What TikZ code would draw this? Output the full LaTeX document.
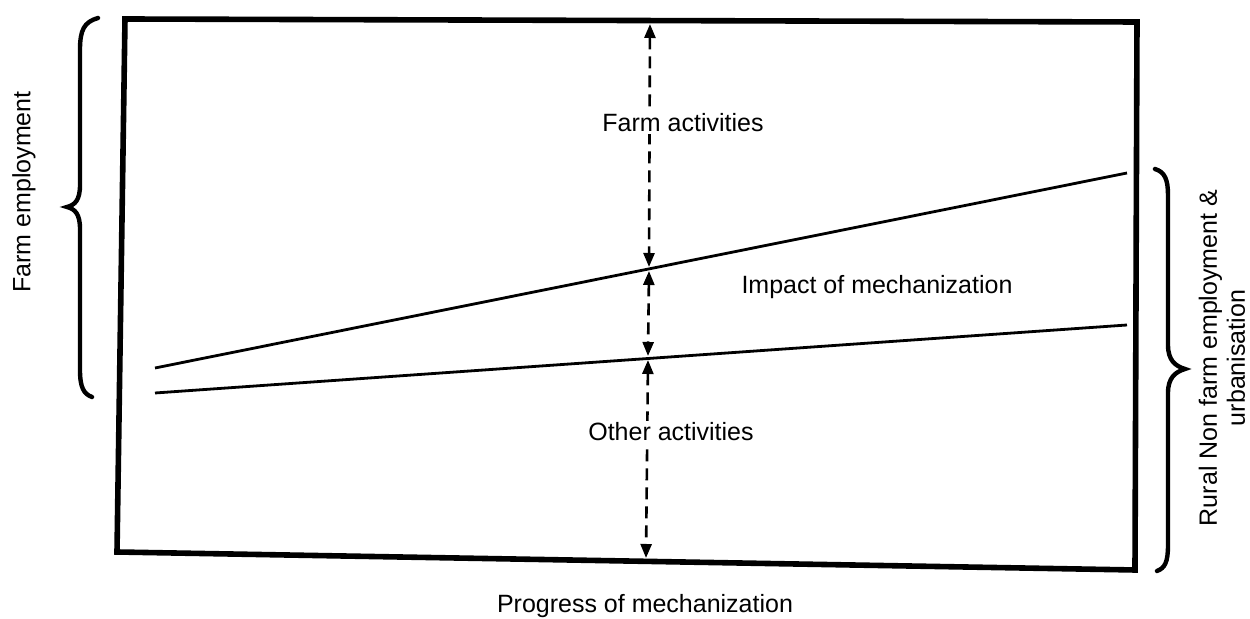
\documentclass[tikz,border=0pt]{standalone}
\usepackage{fontspec}
\setmainfont{Liberation Sans}
\usetikzlibrary{arrows.meta}
\begin{document}
\begin{tikzpicture}[x=0.5pt,y=-0.5pt,
  frame/.style={line width=2.8pt, line join=miter},
  trend/.style={line width=1.4pt},
  gap/.style={line width=1.3pt, dash pattern=on 6pt off 3.5pt,
    {Triangle[length=7pt,width=5.5pt]}-{Triangle[length=7pt,width=5.5pt]}},
  brace/.style={line width=2.2pt, line cap=round},
  lbl/.style={font=\fontsize{12.5}{14}\selectfont, inner sep=0pt}]
\useasboundingbox (0,0) rectangle (1250,619);
% frame corners
\coordinate (tl) at (125,19);
\coordinate (tr) at (1137,22);
\coordinate (br) at (1135,570);
\coordinate (bl) at (117,552);
\draw[frame] (tl) -- (tr) -- (br) -- (bl) -- cycle;
% trend lines
\coordinate (u1) at (155,368);
\coordinate (u2) at (1127,173);
\coordinate (l1) at (155,393);
\coordinate (l2) at (1127,325);
\draw[trend] (u1) -- (u2);
\draw[trend] (l1) -- (l2);
% arrow end points
\coordinate (a0) at (650,24);
\coordinate (a1) at (649,267);
\coordinate (a1b) at (649,271);
\coordinate (a2) at (648,356);
\coordinate (a2b) at (648,360);
\coordinate (a3) at (646,558);
\draw[gap] (a0) -- (a1);
\draw[gap] (a1b) -- (a2);
\draw[gap] (a2b) -- (a3);
% labels
\node[lbl, fill=white, inner sep=1pt] (farm) at (683,123) {Farm activities};
\node[lbl] (impact) at (877,287) {Impact of mechanization};
\node[lbl, fill=white, inner sep=1pt] (other) at (671,432) {Other activities};
\node[lbl] (progress) at (645,606) {Progress of mechanization};
\node[lbl, rotate=90] (farmemp) at (24,192) {Farm employment};
\node[lbl, rotate=90, align=center] (rural) at (1222,358) {Rural Non farm employment \&\\urbanisation};
% braces
\draw[brace] (98,18) .. controls (84,22) and (80,30) .. (80,50) -- (80,185)
  .. controls (80,200) and (75,205) .. (67,207)
  .. controls (75,209) and (80,214) .. (80,229) -- (80,370)
  .. controls (80,388) and (84,394) .. (92,397);
\draw[brace] (1155,169) .. controls (1165,172) and (1168,180) .. (1168,195) -- (1168,345)
  .. controls (1168,360) and (1175,366) .. (1185,369)
  .. controls (1175,372) and (1168,378) .. (1168,393) -- (1168,545)
  .. controls (1168,562) and (1165,568) .. (1157,571);
\end{tikzpicture}
\end{document}
